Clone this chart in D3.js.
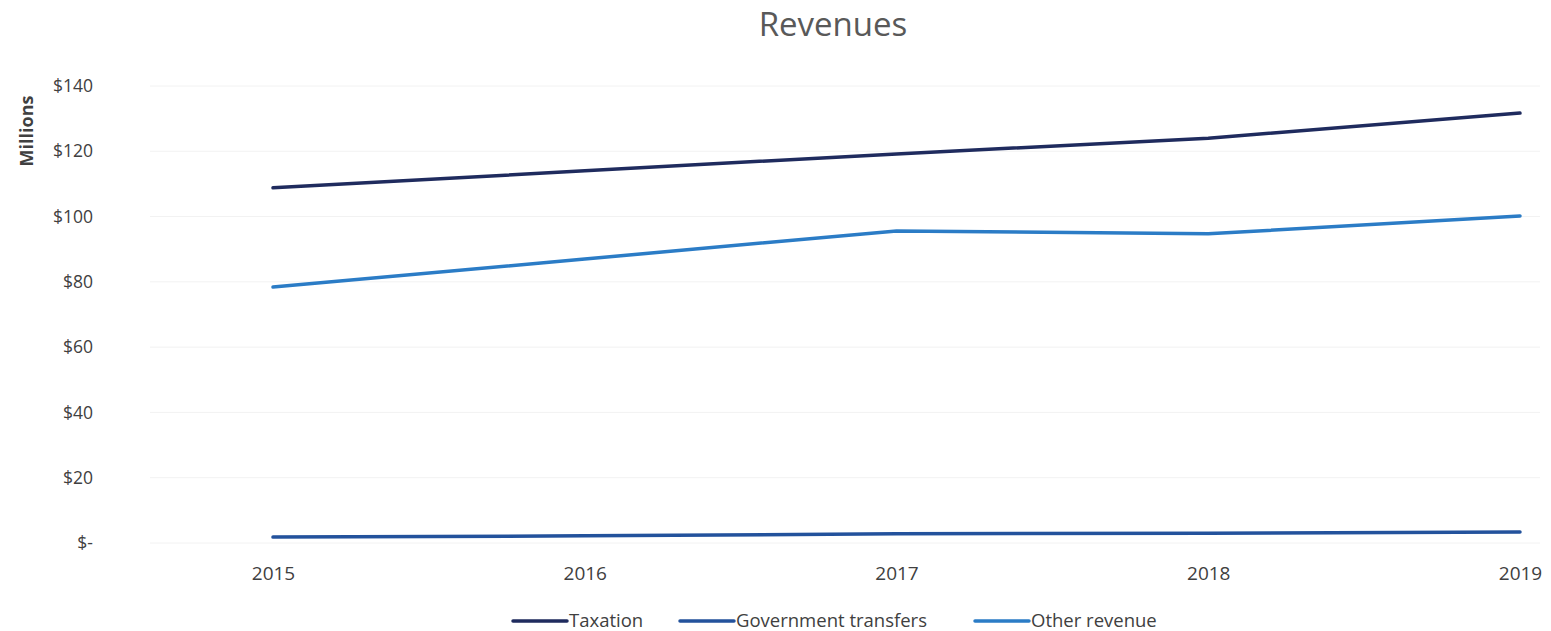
<!DOCTYPE html>
<html>
<head>
<meta charset="utf-8">
<script src="https://cdn.jsdelivr.net/npm/d3@7"></script>
<style>
  html, body { margin: 0; padding: 0; background: #ffffff; }
  svg { display: block; }
</style>
</head>
<body>
<svg id="chart" width="1551" height="631"></svg>
<script>
const years = ["2015", "2016", "2017", "2018", "2019"];
const taxation = [108.8, 114.0, 119.2, 124.0, 131.7];
const governmentTransfers = [1.8, 2.2, 2.8, 3.0, 3.4];
const otherRevenue = [78.4, 87.0, 95.6, 94.7, 100.2];
const seriesNames = ["Taxation", "Government transfers", "Other revenue"];
const seriesColors = ["#1f2b5e", "#23529c", "#2b7cc6"];
const yTicks = [0, 20, 40, 60, 80, 100, 120, 140];

const series = [taxation, governmentTransfers, otherRevenue];
const svg = d3.select("#chart");
const font = "'Open Sans', sans-serif";

const x = d3.scalePoint().domain(years).range([273, 1520]);
const y = d3.scaleLinear().domain([0, 140]).range([543, 86]);

// gridlines
svg.append("g")
  .selectAll("line")
  .data(yTicks)
  .join("line")
  .attr("x1", 150).attr("x2", 1540)
  .attr("y1", d => y(d)).attr("y2", d => y(d))
  .attr("stroke", "#f2f2f2").attr("stroke-width", 1);

// y axis
const yAxis = d3.axisLeft(y)
  .tickValues(yTicks)
  .tickSize(0)
  .tickPadding(0)
  .tickFormat(d => d === 0 ? "$-" : "$" + d);
const gy = svg.append("g").attr("transform", "translate(93,0)").call(yAxis);
gy.select(".domain").remove();
gy.selectAll("text")
  .attr("font-family", font).attr("font-size", 17.5).attr("fill", "#404040");

// x axis
const xAxis = d3.axisBottom(x).tickSize(0).tickPadding(0);
const gx = svg.append("g").attr("transform", "translate(0,573)").call(xAxis);
gx.select(".domain").remove();
gx.selectAll("text")
  .attr("font-family", font).attr("font-size", 19).attr("fill", "#404040")
  .attr("dy", "0.35em");

// lines
const line = d3.line().x((d, i) => x(years[i])).y(d => y(d));
svg.append("g")
  .selectAll("path")
  .data(series)
  .join("path")
  .attr("d", d => line(d))
  .attr("fill", "none")
  .attr("stroke", (d, i) => seriesColors[i])
  .attr("stroke-width", 3.5)
  .attr("stroke-linecap", "round")
  .attr("stroke-linejoin", "round");

// title
svg.append("text")
  .attr("x", 833).attr("y", 36)
  .attr("text-anchor", "middle")
  .attr("font-family", font).attr("font-size", 33)
  .attr("fill", "#595959")
  .text("Revenues");

// y axis title
svg.append("text")
  .attr("transform", "translate(27,131) rotate(-90)")
  .attr("text-anchor", "middle")
  .attr("dy", "0.35em")
  .attr("font-family", font).attr("font-size", 18).attr("font-weight", "bold")
  .attr("fill", "#404040")
  .text("Millions");

// legend
const legendX = [513, 680, 975];
const lg = svg.append("g")
  .selectAll("g")
  .data(seriesNames)
  .join("g")
  .attr("transform", (d, i) => `translate(${legendX[i]},621)`);
lg.append("line")
  .attr("x1", 0).attr("x2", 54).attr("y1", 0).attr("y2", 0)
  .attr("stroke", (d, i) => seriesColors[i]).attr("stroke-width", 3.5)
  .attr("stroke-linecap", "round");
lg.append("text")
  .attr("x", 56).attr("y", 0).attr("dy", "0.35em")
  .attr("font-family", font).attr("font-size", 18.5).attr("fill", "#404040")
  .text(d => d);
</script>
</body>
</html>
